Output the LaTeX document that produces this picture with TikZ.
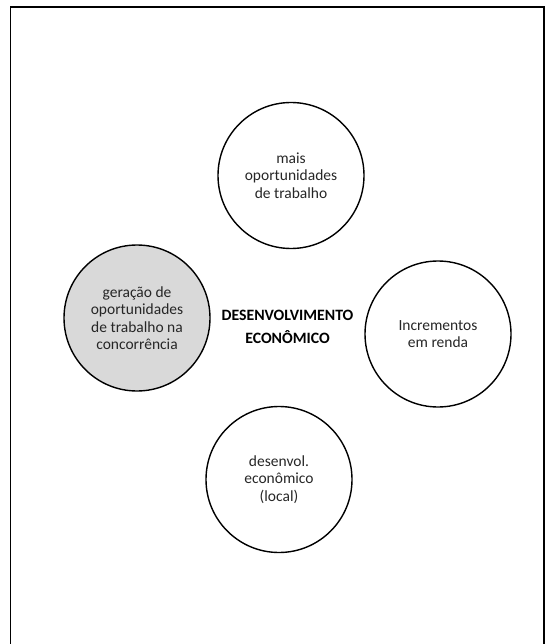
\documentclass[tikz,border=0pt]{standalone}
\usepackage{fontspec}
\setmainfont{Carlito}
\usetikzlibrary{shapes.geometric}
\definecolor{bubblegray}{RGB}{217,217,217}
\begin{document}
\begin{tikzpicture}[x=1pt,y=-1pt,
  bubble/.style={ellipse,draw=black,line width=1.4pt,minimum width=146pt,minimum height=146pt,inner sep=0pt,align=center,text=black!85,font=\fontsize{15.5}{17.5}\selectfont},
  title/.style={align=center,font=\bfseries\fontsize{15.8}{23}\selectfont}]
\useasboundingbox (0,0) rectangle (547,644);
\draw[line width=1.8pt] (10.5,660) -- (10.5,7) -- (544,7) -- (544,660);
\node[bubble] (top) at (291,175.5) {mais\\oportunidades\\de trabalho};
\node[bubble,fill=bubblegray] (left) at (137,318) {geração de\\oportunidades\\de trabalho na\\concorrência};
\node[bubble] (right) at (438,334) {Incrementos\\em renda};
\node[bubble] (bottom) at (279,479.5) {desenvol.\\econômico\\(local)};
\node[title] (center) at (287.5,327) {DESENVOLVIMENTO\\ECONÔMICO};
\end{tikzpicture}
\end{document}
